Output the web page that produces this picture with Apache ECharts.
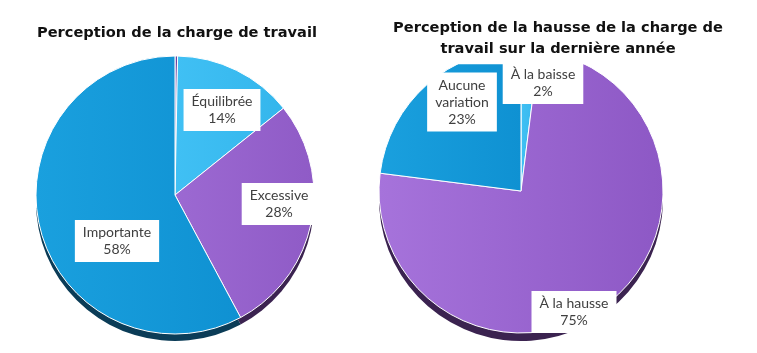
<!DOCTYPE html>
<html>
<head>
<meta charset="utf-8">
<script src="https://cdn.jsdelivr.net/npm/echarts@6/dist/echarts.min.js"></script>
<style>
  html, body { margin: 0; padding: 0; background: #fff; }
  #main { width: 757px; height: 353px; }
</style>
</head>
<body>
<div id="main"></div>
<script>
// données
var chargeNoms = ['Autre', 'Équilibrée', 'Excessive', 'Importante'];
var chargeValeurs = [0.3, 14, 28, 58];
var hausseNoms = ['À la baisse', 'À la hausse', 'Aucune\nvariation'];
var hausseValeurs = [2, 75, 23];

// couleurs [clair, foncé, ombre]
var couleursCharge = [
    ['#7446a8', '#643996', '#3a2352'],
    ['#40c0f4', '#34b6ec', '#1b6a8f'],
    ['#9c69d2', '#8f5bc6', '#3b2350'],
    ['#1aa0de', '#0f91d2', '#0b3c57']
];
var couleursHausse = [
    ['#40c0f4', '#34b6ec', '#1b6a8f'],
    ['#a673db', '#8d58c5', '#3b2350'],
    ['#1aa0de', '#0f91d2', '#0b3c57']
];
// centre des étiquettes (px)
var posCharge = [null, [222, 110], [279, 204], [117, 241]];
var posHausse = [[543, 83], [574, 312], [462, 102]];

var chart = echarts.init(document.getElementById('main'));

function grad(c) {
    return new echarts.graphic.LinearGradient(0, 0, 1, 0, [
        {offset: 0, color: c[0]},
        {offset: 1, color: c[1]}
    ]);
}

function donnees(noms, valeurs, couleurs, ombre) {
    return noms.map(function (n, i) {
        var d = {
            name: n,
            value: valeurs[i],
            itemStyle: {color: ombre ? couleurs[i][2] : grad(couleurs[i])}
        };
        if (!ombre && n === 'Autre') d.label = {show: false};
        return d;
    });
}

var labelStyle = {
    show: true,
    position: 'inside',
    formatter: '{b}\n{c}%',
    color: '#404040',
    fontFamily: 'Lato',
    fontSize: 14,
    lineHeight: 17,
    backgroundColor: '#fff',
    padding: [4, 8]
};

function layout(pos) {
    return function (params) {
        var p = pos[params.dataIndex];
        if (!p) return {};
        return {x: p[0], y: p[1], align: 'center', verticalAlign: 'middle'};
    };
}

var titreStyle = {fontFamily: 'DejaVu Sans', fontWeight: 'bold', fontSize: 14.6, lineHeight: 21.6, color: '#111'};

var option = {
    animation: false,
    title: [
        {
            text: 'Perception de la charge de travail',
            left: 173,
            top: 20,
            textAlign: 'center',
            padding: [2, 4],
            textStyle: titreStyle
        },
        {
            text: 'Perception de la hausse de la charge de\ntravail sur la dernière année',
            left: 554,
            top: 15,
            textAlign: 'center',
            backgroundColor: '#fff',
            padding: [2, 4, 4, 4],
            textStyle: titreStyle
        }
    ],
    series: [
        {
            type: 'pie', silent: true, z: 1,
            center: [175, 202], radius: 139,
            label: {show: false}, labelLine: {show: false},
            data: donnees(chargeNoms, chargeValeurs, couleursCharge, true)
        },
        {
            type: 'pie', z: 2,
            center: [175, 195], radius: 139,
            itemStyle: {borderColor: '#fff', borderWidth: 1},
            label: labelStyle,
            labelLine: {show: false},
            labelLayout: layout(posCharge),
            data: donnees(chargeNoms, chargeValeurs, couleursCharge, false)
        },
        {
            type: 'pie', silent: true, z: 1,
            center: [521, 199], radius: 142,
            label: {show: false}, labelLine: {show: false},
            data: donnees(hausseNoms, hausseValeurs, couleursHausse, true)
        },
        {
            type: 'pie', z: 2,
            center: [521, 191], radius: 142,
            itemStyle: {borderColor: '#fff', borderWidth: 1},
            label: labelStyle,
            labelLine: {show: false},
            labelLayout: layout(posHausse),
            data: donnees(hausseNoms, hausseValeurs, couleursHausse, false)
        }
    ]
};

chart.setOption(option);
</script>
</body>
</html>
